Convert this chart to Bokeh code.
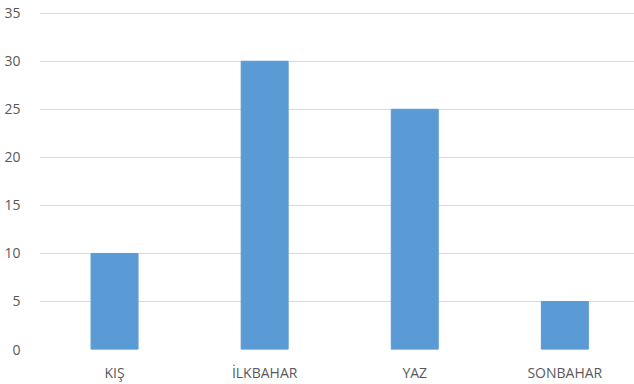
from bokeh.plotting import figure
from bokeh.models import Range1d, FixedTicker, ColumnDataSource
from bokeh.embed import file_html
from bokeh.resources import INLINE

categories = ["KIŞ", "İLKBAHAR", "YAZ", "SONBAHAR"]
values = [10, 30, 25, 5]
y_ticks = [0, 5, 10, 15, 20, 25, 30, 35]

xs = list(range(len(categories)))
src = ColumnDataSource(dict(x=xs, top=values, cat=categories))

p = figure(frame_width=595, frame_height=337, output_backend="svg", toolbar_location=None,
           x_range=Range1d(-0.5, 3.464), y_range=Range1d(0, 35.07),
           min_border_left=39, min_border_right=0, min_border_top=12, min_border_bottom=35)
p.outline_line_color = None
p.background_fill_color = "white"
p.border_fill_color = "white"

p.vbar(x="x", top="top", width=0.313, bottom=0, source=src,
       fill_color="#5B9BD5", line_color="#5A9AD6", line_width=1)

p.xaxis.ticker = FixedTicker(ticks=xs)
p.xaxis.major_label_overrides = {i: c for i, c in enumerate(categories)}
p.yaxis.ticker = FixedTicker(ticks=y_ticks)

for ax in (p.xaxis[0], p.yaxis[0]):
    ax.axis_line_color = None
    ax.major_tick_line_color = None
    ax.minor_tick_line_color = None
    ax.major_label_text_color = "#595959"
    ax.major_label_text_font = "Open Sans"
    ax.major_label_text_font_size = "14px"
p.xaxis.major_label_standoff = 7
p.yaxis.major_label_standoff = 13

p.xgrid.grid_line_color = None
p.ygrid.grid_line_color = "#D9D9D9"
p.ygrid.grid_line_width = 1

open("out.html", "w").write(file_html(p, INLINE))
